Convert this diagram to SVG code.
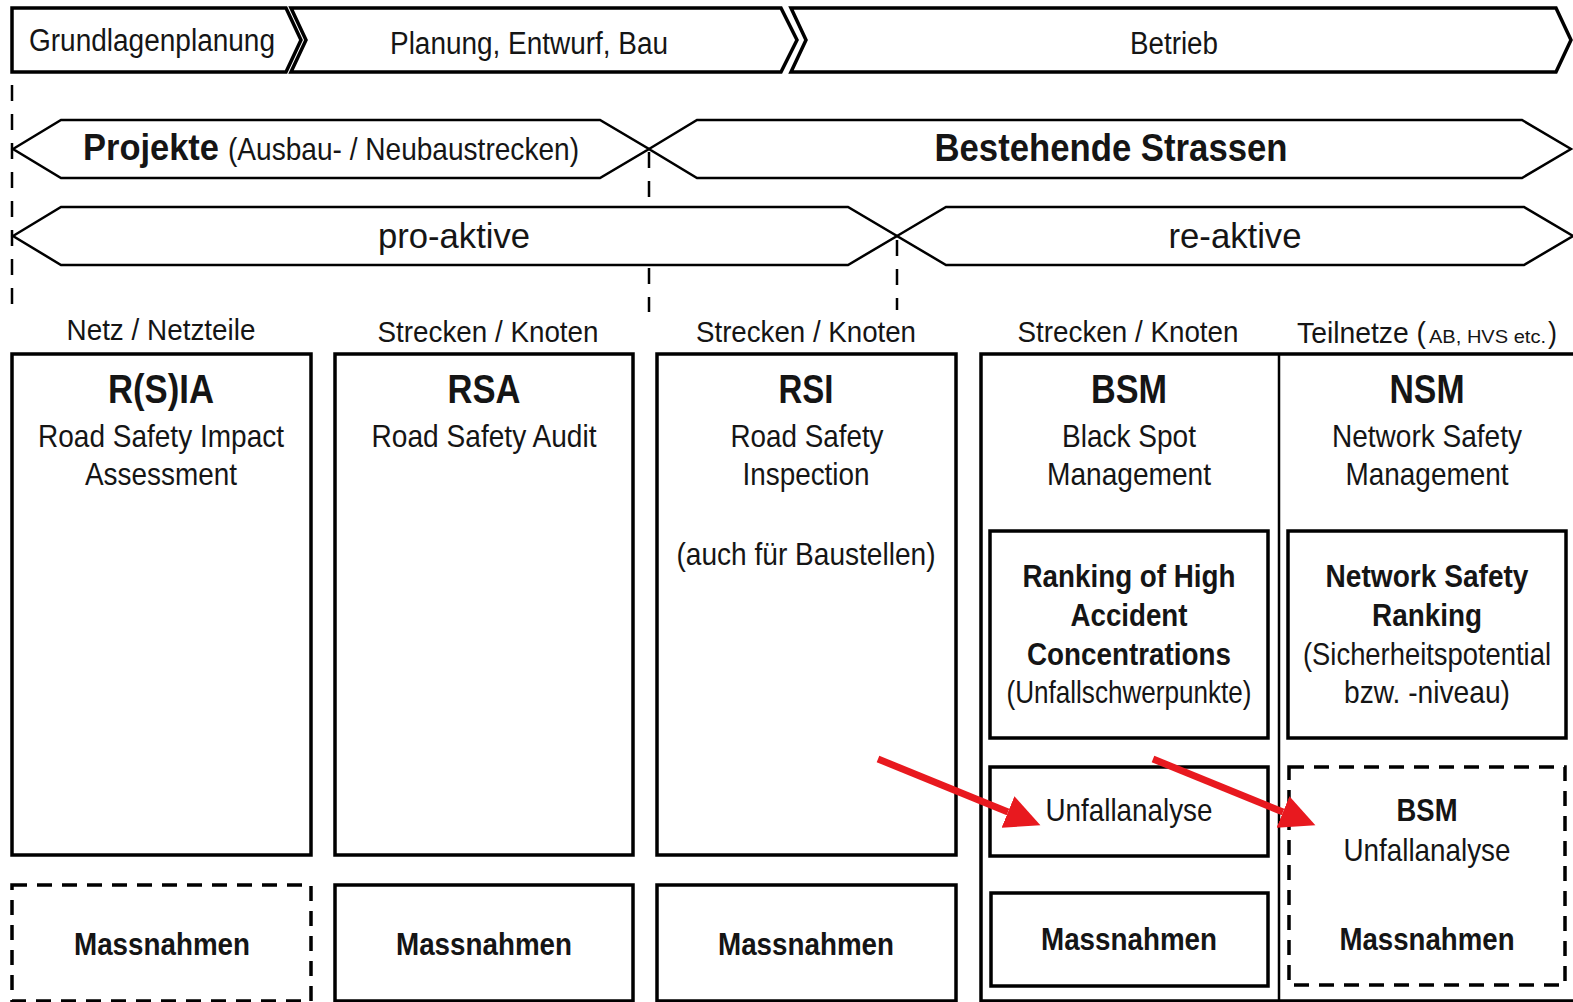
<svg xmlns="http://www.w3.org/2000/svg" width="1573" height="1002" viewBox="0 0 1573 1002">
<defs>
<style>
text{font-family:"Liberation Sans Narrow","Arial Narrow","Liberation Sans",Arial,sans-serif;fill:#151515;text-anchor:middle}
.b{font-weight:bold}
.s30{font-size:32px}
.s38{font-size:40px}
.phase{fill:#fff;stroke:#000;stroke-width:3.5;stroke-linejoin:miter}
.hex{fill:#fff;stroke:#000;stroke-width:2.5}
.box{fill:#fff;stroke:#000;stroke-width:3.5}
.dbox{fill:#fff;stroke:#000;stroke-width:3.5;stroke-dasharray:15 10}
.guide{stroke:#000;stroke-width:2.5;stroke-dasharray:16 13;fill:none}
.arrow{stroke:#e8191f;stroke-width:7;fill:none}
</style>
<marker id="ah" markerUnits="userSpaceOnUse" markerWidth="36" markerHeight="36" refX="0" refY="17" orient="auto">
<path d="M0,0 L35,17 L0,34 z" fill="#e8191f"/>
</marker>
</defs>
<rect width="1573" height="1002" fill="#fff"/>

<g id="guides">
<line class="guide" x1="12" y1="85" x2="12" y2="306"/>
<line class="guide" x1="649" y1="152" x2="649" y2="312"/>
<line class="guide" x1="897" y1="240" x2="897" y2="310"/>
</g>

<g id="phase-grundlagen">
<polygon class="phase" points="12,8 286,8 301,40 286,72 12,72"/>
<text style="font-size:31px" x="152" y="51" textLength="246" lengthAdjust="spacingAndGlyphs">Grundlagenplanung</text>
</g>
<g id="phase-planung">
<polygon class="phase" points="291,8 781,8 797,40 781,72 291,72 306,40"/>
<text style="font-size:31px" x="529" y="54" textLength="278" lengthAdjust="spacingAndGlyphs">Planung, Entwurf, Bau</text>
</g>
<g id="phase-betrieb">
<polygon class="phase" points="791,8 1556,8 1571,40 1556,72 791,72 806,40"/>
<text style="font-size:31px" x="1174" y="54" textLength="88" lengthAdjust="spacingAndGlyphs">Betrieb</text>
</g>

<g id="band-projekte">
<polygon class="hex" points="13,149 61,120 600,120 649,149 600,178 61,178"/>
<text class="b" style="font-size:37px;text-anchor:start" x="83" y="160" textLength="136" lengthAdjust="spacingAndGlyphs">Projekte</text>
<text style="font-size:32px;text-anchor:start" x="228" y="160" textLength="351" lengthAdjust="spacingAndGlyphs">(Ausbau- / Neubaustrecken)</text>
</g>
<g id="band-bestehende">
<polygon class="hex" points="649,149 697,120 1522,120 1571,149 1522,178 697,178"/>
<text class="b" style="font-size:38px" x="1111" y="161" textLength="353" lengthAdjust="spacingAndGlyphs">Bestehende Strassen</text>
</g>
<g id="band-proaktiv">
<polygon class="hex" points="13,236 61,207 848,207 897,236 848,265 61,265"/>
<text style="font-size:35px" x="454" y="248" textLength="152" lengthAdjust="spacingAndGlyphs">pro-aktive</text>
</g>
<g id="band-reaktiv">
<polygon class="hex" points="897,236 946,207 1524,207 1573,236 1524,265 946,265"/>
<text style="font-size:35px" x="1235" y="248" textLength="133" lengthAdjust="spacingAndGlyphs">re-aktive</text>
</g>

<g id="labels">
<text style="font-size:30px" x="161" y="340" textLength="189" lengthAdjust="spacingAndGlyphs">Netz / Netzteile</text>
<text style="font-size:30px" x="488" y="342" textLength="221" lengthAdjust="spacingAndGlyphs">Strecken / Knoten</text>
<text style="font-size:30px" x="806" y="342" textLength="220" lengthAdjust="spacingAndGlyphs">Strecken / Knoten</text>
<text style="font-size:30px" x="1128" y="342" textLength="221" lengthAdjust="spacingAndGlyphs">Strecken / Knoten</text>
<text style="font-size:30px;text-anchor:start" x="1297" y="343" textLength="129" lengthAdjust="spacingAndGlyphs">Teilnetze (</text>
<text style="font-size:18px;text-anchor:start" x="1429" y="343" textLength="117" lengthAdjust="spacingAndGlyphs">AB, HVS etc.</text>
<text style="font-size:30px;text-anchor:start" x="1548" y="343" textLength="9" lengthAdjust="spacingAndGlyphs">)</text>
</g>

<g id="node-rsia">
<rect class="box" x="12" y="354" width="299" height="501"/>
<text class="b s38" x="161" y="403" textLength="106" lengthAdjust="spacingAndGlyphs">R(S)IA</text>
<text class="s30" x="161" y="447" textLength="246" lengthAdjust="spacingAndGlyphs">Road Safety Impact</text>
<text class="s30" x="161" y="485" textLength="152" lengthAdjust="spacingAndGlyphs">Assessment</text>
</g>
<g id="node-rsa">
<rect class="box" x="335" y="354" width="298" height="501"/>
<text class="b s38" x="484" y="403" textLength="73" lengthAdjust="spacingAndGlyphs">RSA</text>
<text class="s30" x="484" y="447" textLength="225" lengthAdjust="spacingAndGlyphs">Road Safety Audit</text>
</g>
<g id="node-rsi">
<rect class="box" x="657" y="354" width="299" height="501"/>
<text class="b s38" x="806" y="403" textLength="55" lengthAdjust="spacingAndGlyphs">RSI</text>
<text class="s30" x="807" y="447" textLength="153" lengthAdjust="spacingAndGlyphs">Road Safety</text>
<text class="s30" x="806" y="485" textLength="127" lengthAdjust="spacingAndGlyphs">Inspection</text>
<text class="s30" x="806" y="565" textLength="259" lengthAdjust="spacingAndGlyphs">(auch für Baustellen)</text>
</g>

<g id="node-bsm-nsm">
<rect class="box" x="981" y="354" width="600" height="647"/>
<line x1="1279" y1="354" x2="1279" y2="1002" stroke="#000" stroke-width="2.5"/>
<text class="b s38" x="1129" y="403" textLength="76" lengthAdjust="spacingAndGlyphs">BSM</text>
<text class="s30" x="1129" y="447" textLength="134" lengthAdjust="spacingAndGlyphs">Black Spot</text>
<text class="s30" x="1129" y="485" textLength="164" lengthAdjust="spacingAndGlyphs">Management</text>
<text class="b s38" x="1427" y="403" textLength="75" lengthAdjust="spacingAndGlyphs">NSM</text>
<text class="s30" x="1427" y="447" textLength="190" lengthAdjust="spacingAndGlyphs">Network Safety</text>
<text class="s30" x="1427" y="485" textLength="163" lengthAdjust="spacingAndGlyphs">Management</text>
</g>

<g id="node-ranking">
<rect class="box" x="990" y="531" width="278" height="207"/>
<text class="b s30" x="1129" y="587" textLength="213" lengthAdjust="spacingAndGlyphs">Ranking of High</text>
<text class="b s30" x="1129" y="626" textLength="117" lengthAdjust="spacingAndGlyphs">Accident</text>
<text class="b s30" x="1129" y="665" textLength="204" lengthAdjust="spacingAndGlyphs">Concentrations</text>
<text class="s30" x="1129" y="703" textLength="245" lengthAdjust="spacingAndGlyphs">(Unfallschwerpunkte)</text>
</g>
<g id="node-nsr">
<rect class="box" x="1288" y="531" width="278" height="207"/>
<text class="b s30" x="1427" y="587" textLength="203" lengthAdjust="spacingAndGlyphs">Network Safety</text>
<text class="b s30" x="1427" y="626" textLength="110" lengthAdjust="spacingAndGlyphs">Ranking</text>
<text class="s30" x="1427" y="665" textLength="248" lengthAdjust="spacingAndGlyphs">(Sicherheitspotential</text>
<text class="s30" x="1427" y="703" textLength="166" lengthAdjust="spacingAndGlyphs">bzw. -niveau)</text>
</g>
<g id="node-unfallanalyse">
<rect class="box" x="990" y="767" width="278" height="89"/>
<text class="s30" x="1129" y="821" textLength="167" lengthAdjust="spacingAndGlyphs">Unfallanalyse</text>
</g>
<g id="node-bsm-unfallanalyse">
<rect class="dbox" x="1289" y="767" width="276" height="218"/>
<text class="b" style="font-size:32px" x="1427" y="821" textLength="61" lengthAdjust="spacingAndGlyphs">BSM</text>
<text class="s30" x="1427" y="861" textLength="167" lengthAdjust="spacingAndGlyphs">Unfallanalyse</text>
<text class="b s30" x="1427" y="950" textLength="175" lengthAdjust="spacingAndGlyphs">Massnahmen</text>
</g>
<g id="node-massnahmen-bsm">
<rect class="box" x="991" y="893" width="277" height="93"/>
<text class="b s30" x="1129" y="950" textLength="176" lengthAdjust="spacingAndGlyphs">Massnahmen</text>
</g>
<g id="node-massnahmen-rsia">
<rect class="dbox" x="12" y="885" width="299" height="116"/>
<text class="b s30" x="162" y="955" textLength="176" lengthAdjust="spacingAndGlyphs">Massnahmen</text>
</g>
<g id="node-massnahmen-rsa">
<rect class="box" x="335" y="885" width="298" height="116"/>
<text class="b s30" x="484" y="955" textLength="176" lengthAdjust="spacingAndGlyphs">Massnahmen</text>
</g>
<g id="node-massnahmen-rsi">
<rect class="box" x="657" y="885" width="299" height="116"/>
<text class="b s30" x="806" y="955" textLength="176" lengthAdjust="spacingAndGlyphs">Massnahmen</text>
</g>

<g id="connectors">
<line class="arrow" x1="878" y1="759" x2="1008" y2="812" marker-end="url(#ah)"/>
<line class="arrow" x1="1153" y1="759" x2="1283" y2="812" marker-end="url(#ah)"/>
</g>
</svg>
